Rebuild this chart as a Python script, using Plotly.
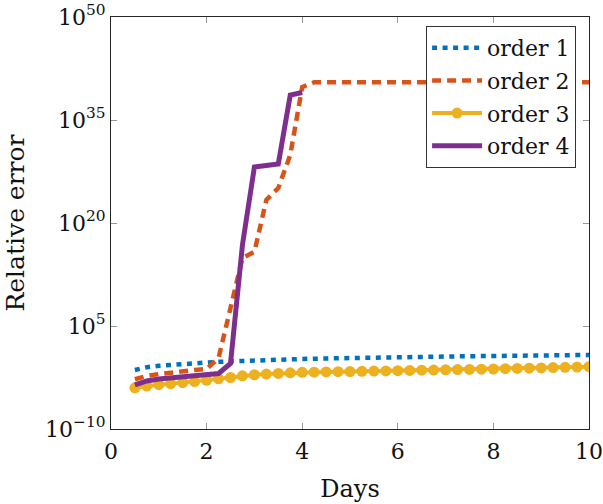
import plotly.graph_objects as go

# Days sampled every quarter day
days = [0.5 + 0.25 * i for i in range(39)]

# log10 of the relative error for each scheme order
order1_exp = [-1.4, -1.0, -0.8, -0.65, -0.52, -0.42, -0.32, -0.22, -0.14, -0.06,
              0.0, 0.06, 0.11, 0.16, 0.2, 0.24, 0.28, 0.31, 0.35, 0.38,
              0.42, 0.45, 0.48, 0.5, 0.52, 0.54, 0.56, 0.58, 0.6, 0.62,
              0.64, 0.66, 0.68, 0.7, 0.72, 0.74, 0.75, 0.77, 0.78]
order2_exp = [-2.76, -2.28, -2.0, -1.77, -1.55, -1.4, -1.26, 0.34, 7.62, 14.9,
              15.8, 23.35, 25.1, 29.9, 39.8, 40.5, 40.5, 40.5, 40.5, 40.5,
              40.5, 40.5, 40.5, 40.5, 40.5, 40.5, 40.5, 40.5, 40.5, 40.5,
              40.5, 40.5, 40.5, 40.5, 40.5, 40.5, 40.5, 40.5, 40.5]
order3_exp = [-4.0, -3.75, -3.55, -3.4, -3.25, -3.1, -2.9, -2.7, -2.5, -2.25,
              -2.1, -2.0, -1.9, -1.82, -1.75, -1.72, -1.69, -1.66, -1.63, -1.6,
              -1.57, -1.54, -1.5, -1.47, -1.44, -1.41, -1.38, -1.35, -1.32, -1.29,
              -1.26, -1.22, -1.18, -1.14, -1.1, -1.06, -1.02, -0.98, -0.93]
# order 4 blows up after day 4
order4_exp = [-3.59, -3.0, -2.72, -2.57, -2.42, -2.28, -2.13, -1.92, -0.46, 16.8,
              28.16, 28.37, 28.6, 38.64, 39.0]

y_tick_exps = [-10, 5, 20, 35, 50]
x_ticks = [0, 2, 4, 6, 8, 10]

FONT = "DejaVu Serif"


def pow10(exps):
    return [10.0 ** v for v in exps]


fig = go.Figure()
fig.add_trace(go.Scatter(
    x=days, y=pow10(order1_exp), name="order 1", mode="lines", legendgroup="o1",
    line=dict(color="#0072BD", width=4.5, dash="5px,5.5px")))
fig.add_trace(go.Scatter(
    x=days, y=pow10(order2_exp), name="order 2", mode="lines", legendgroup="o2",
    line=dict(color="#D95319", width=4.5, dash="9px,6px")))
fig.add_trace(go.Scatter(
    x=days, y=pow10(order3_exp), name="order 3", mode="lines+markers", legendgroup="o3",
    line=dict(color="#EDB120", width=4), marker=dict(size=11, color="#EDB120")))
fig.add_trace(go.Scatter(
    x=days[:len(order4_exp)], y=pow10(order4_exp), name="order 4", legendgroup="o4",
    mode="lines", line=dict(color="#7E2F8E", width=5)))

fig.update_layout(
    width=603, height=504,
    margin=dict(l=111, r=14, t=17, b=75),
    paper_bgcolor="white", plot_bgcolor="white",
    font=dict(family=FONT, size=22, color="#111"),
    legend=dict(x=0.973, y=0.978, xanchor="right", yanchor="top",
                bordercolor="#333", borderwidth=1, bgcolor="white",
                itemwidth=50, tracegroupgap=1,
                font=dict(family=FONT, size=22)),
)
fig.update_xaxes(
    range=[0, 10], tickvals=x_ticks, ticktext=[str(t) for t in x_ticks],
    showgrid=False, zeroline=False, showline=True, linecolor="#262626",
    linewidth=1, mirror="allticks", ticks="inside", ticklen=6,
    tickcolor="#999", automargin=False, ticklabelstandoff=3,
    title=dict(text="Days", standoff=16, font=dict(family=FONT, size=24)),
)
fig.update_yaxes(
    type="log", range=[-10, 50],
    tickvals=pow10(y_tick_exps),
    ticktext=["10<sup>%s</sup>" % (str(e).replace("-", "\u2212")) for e in y_tick_exps],
    showgrid=False, zeroline=False, showline=True, linecolor="#262626",
    linewidth=1, mirror="allticks", ticks="inside", ticklen=6,
    tickcolor="#999", automargin=False,
    title=dict(text="Relative error", standoff=13, font=dict(family=FONT, size=25)),
)

fig.write_html("out.html")
